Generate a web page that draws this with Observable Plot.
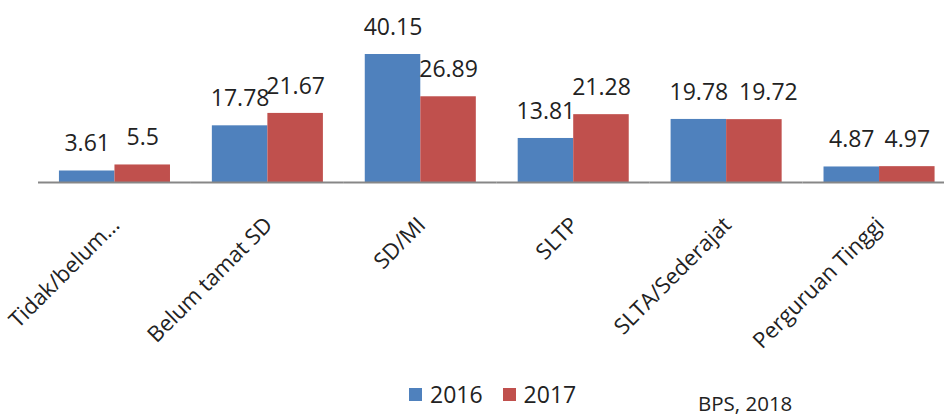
<!DOCTYPE html>
<html>
<head>
<meta charset="utf-8">
<script src="https://cdn.jsdelivr.net/npm/d3@7"></script>
<script src="https://cdn.jsdelivr.net/npm/@observablehq/plot@0.6"></script>
<style>
  html, body { margin: 0; padding: 0; background: #fff; overflow: hidden; }
  body { width: 944px; height: 418px; position: relative; font-family: "Open Sans", sans-serif; }
  #chart { position: absolute; left: 0; top: 0; }
  #legend { position: absolute; left: 409px; top: 378px; display: flex; align-items: center; font-size: 23px; color: #222; }
  #legend .sw { width: 13px; height: 13px; display: inline-block; margin-right: 8px; }
  #legend .item { display: flex; align-items: center; margin-right: 20px; }
  #source { position: absolute; left: 698px; top: 393px; font-size: 20.5px; line-height: 1; color: #222; }
</style>
</head>
<body>
<div id="chart"></div>
<div id="legend"></div>
<div id="source">BPS, 2018</div>
<script>
const categories = ["Tidak/belum…", "Belum tamat SD", "SD/MI", "SLTP", "SLTA/Sederajat", "Perguruan Tinggi"];
const years = ["2016", "2017"];
const values2016 = [3.61, 17.78, 40.15, 13.81, 19.78, 4.87];
const values2017 = [5.5, 21.67, 26.89, 21.28, 19.72, 4.97];
const colors = ["#4F81BD", "#C0504D"];

const data = [];
categories.forEach((c, i) => {
  // labels of a pair at nearly the same height and long enough to collide get nudged apart
  const crowded = Math.abs(values2016[i] - values2017[i]) < 1 && Math.min(values2016[i], values2017[i]) >= 10;
  data.push({cat: c, year: years[0], value: values2016[i], crowded: false});
  data.push({cat: c, year: years[1], value: values2017[i], crowded});
});

const labelStyle = {fx: "cat", x: "year", y: "value", text: d => String(d.value), dy: -27, fontSize: 23, fill: "#222"};

const chart = Plot.plot({
  width: 944,
  height: 370,
  marginLeft: 38,
  marginRight: 0,
  marginTop: 54,
  marginBottom: 188,
  style: {fontFamily: "Open Sans", background: "transparent", overflow: "visible"},
  fx: {domain: categories, range: [38, 955.5], padding: 0, round: false, label: null},
  x: {domain: years, paddingInner: 0, paddingOuter: 0.377, round: false, axis: null},
  y: {domain: [0, d3.max([...values2016, ...values2017])], axis: null},
  color: {domain: years, range: colors},
  marks: [
    Plot.barY(data, {fx: "cat", x: "year", y: "value", fill: "year"}),
    Plot.ruleY([0], {stroke: "#878787", strokeWidth: 2}),
    Plot.text(data, {...labelStyle, filter: d => !d.crowded}),
    Plot.text(data, {...labelStyle, filter: d => d.crowded, dx: 14}),
    Plot.axisFx({anchor: "bottom", tickRotate: -45, tickSize: 0, fontSize: 22, dx: 1, dy: 27, label: null, fill: "#222"})
  ]
});
document.getElementById("chart").appendChild(chart);

const legend = document.getElementById("legend");
years.forEach((y, i) => {
  const item = document.createElement("span");
  item.className = "item";
  const sw = document.createElement("span");
  sw.className = "sw";
  sw.style.background = colors[i];
  item.appendChild(sw);
  item.appendChild(document.createTextNode(y));
  legend.appendChild(item);
});
</script>
</body>
</html>
